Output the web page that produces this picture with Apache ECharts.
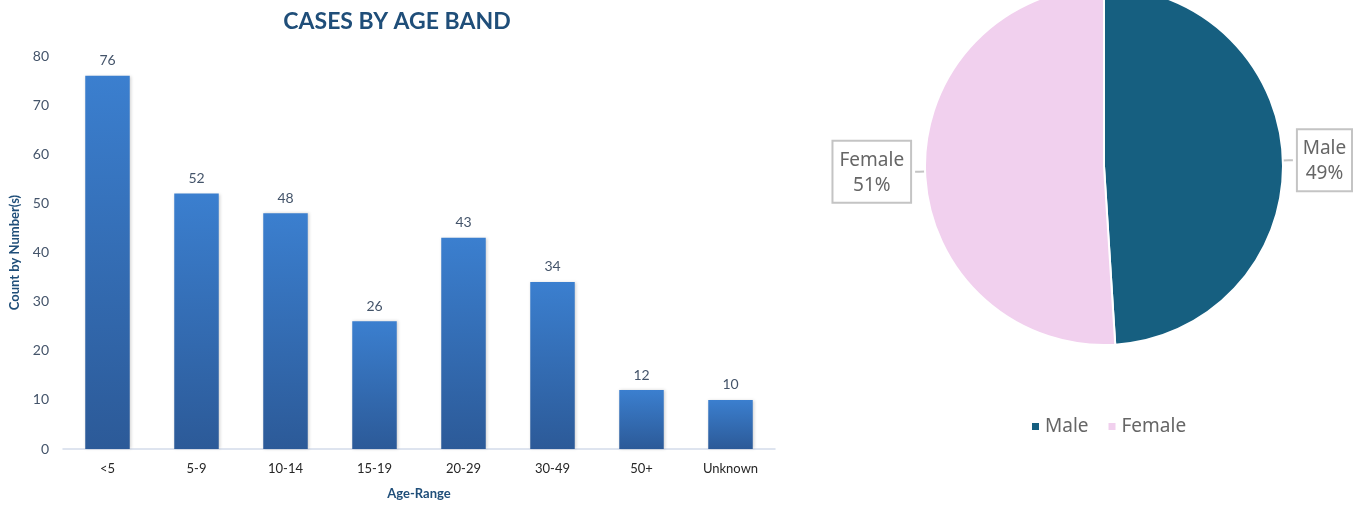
<!DOCTYPE html>
<html>
<head>
<meta charset="utf-8">
<script src="https://cdn.jsdelivr.net/npm/echarts@6/dist/echarts.min.js"></script>
<style>
  html, body { margin: 0; padding: 0; background: #fff; }
  #chart { width: 1361px; height: 506px; }
</style>
</head>
<body>
<div id="chart"></div>
<script>
// Case counts by age band
const ageBands = ['<5', '5-9', '10-14', '15-19', '20-29', '30-49', '50+', 'Unknown'];
const caseCounts = [76, 52, 48, 26, 43, 34, 12, 10];

// Share of cases by sex
const sexLabels = ['Male', 'Female'];
const sexShares = [49, 51];
const sexColors = ['#165f80', '#f1d0ee'];

const chart = echarts.init(document.getElementById('chart'));

const barFont = 'Lato, "Liberation Sans", sans-serif';
const pieFont = '"Noto Sans", "Open Sans", sans-serif';

chart.setOption({
  animation: false,
  title: {
    text: 'CASES BY AGE BAND',
    left: 392,
    textAlign: 'center',
    top: 5,
    textStyle: { fontFamily: barFont, fontSize: 23, fontWeight: 'bold', color: '#1f4e79' }
  },
  legend: {
    data: sexLabels,
    left: 1025,
    top: 412,
    icon: 'rect',
    itemWidth: 9,
    itemHeight: 9,
    itemGap: 18,
    textStyle: { fontFamily: pieFont, fontSize: 19, color: '#666666' }
  },
  grid: { left: 62, right: 586, top: 56, bottom: 57, containLabel: false },
  xAxis: {
    type: 'category',
    data: ageBands,
    name: 'Age-Range',
    nameLocation: 'middle',
    nameGap: 38,
    nameTextStyle: { fontFamily: barFont, fontSize: 13, fontWeight: 'bold', color: '#1f4e79' },
    axisLine: { lineStyle: { color: '#d3dcea', width: 1.5 } },
    axisTick: { show: false },
    axisLabel: { fontFamily: barFont, fontSize: 13, color: '#262626', margin: 13 }
  },
  yAxis: {
    type: 'value',
    min: 0,
    max: 80,
    interval: 10,
    name: 'Count by Number(s)',
    nameLocation: 'middle',
    nameGap: 42,
    nameRotate: 90,
    nameTextStyle: { fontFamily: barFont, fontSize: 13, fontWeight: 'bold', color: '#1f4e79' },
    splitLine: { show: false },
    axisLine: { show: false },
    axisTick: { show: false },
    axisLabel: { fontFamily: barFont, fontSize: 14, color: '#44546a', margin: 14 }
  },
  series: [
    {
      type: 'bar',
      data: caseCounts,
      barWidth: '50%',
      itemStyle: {
        color: new echarts.graphic.LinearGradient(0, 0, 0, 1, [
          { offset: 0, color: '#3b7fcf' },
          { offset: 1, color: '#2c5a98' }
        ]),
        shadowColor: 'rgba(0,0,0,0.18)',
        shadowBlur: 3,
        shadowOffsetX: 1,
        shadowOffsetY: 0
      },
      label: {
        show: true,
        position: 'top',
        distance: 8,
        fontFamily: barFont,
        fontSize: 14,
        color: '#44546a'
      }
    },
    {
      type: 'pie',
      center: [1104, 166],
      radius: 179,
      startAngle: 90,
      clockwise: true,
      data: sexLabels.map((name, i) => ({
        name: name,
        value: sexShares[i],
        itemStyle: { color: sexColors[i] }
      })),
      itemStyle: { borderColor: '#ffffff', borderWidth: 2 },
      label: {
        show: true,
        position: 'outside',
        overflow: 'none',
        formatter: '{c|{b}}\n{c|{d}%}',
        rich: {
          c: {
            fontFamily: pieFont,
            fontSize: 19,
            lineHeight: 25,
            color: '#666666',
            align: 'center'
          }
        },
        backgroundColor: '#ffffff',
        borderColor: '#c4c4c4',
        borderWidth: 2,
        padding: [6, 6, 4, 6]
      },
      labelLine: {
        show: true,
        length: 6,
        length2: 4,
        lineStyle: { color: '#c4c4c4', width: 2 }
      },
      emphasis: { disabled: true }
    }
  ]
});
</script>
</body>
</html>
